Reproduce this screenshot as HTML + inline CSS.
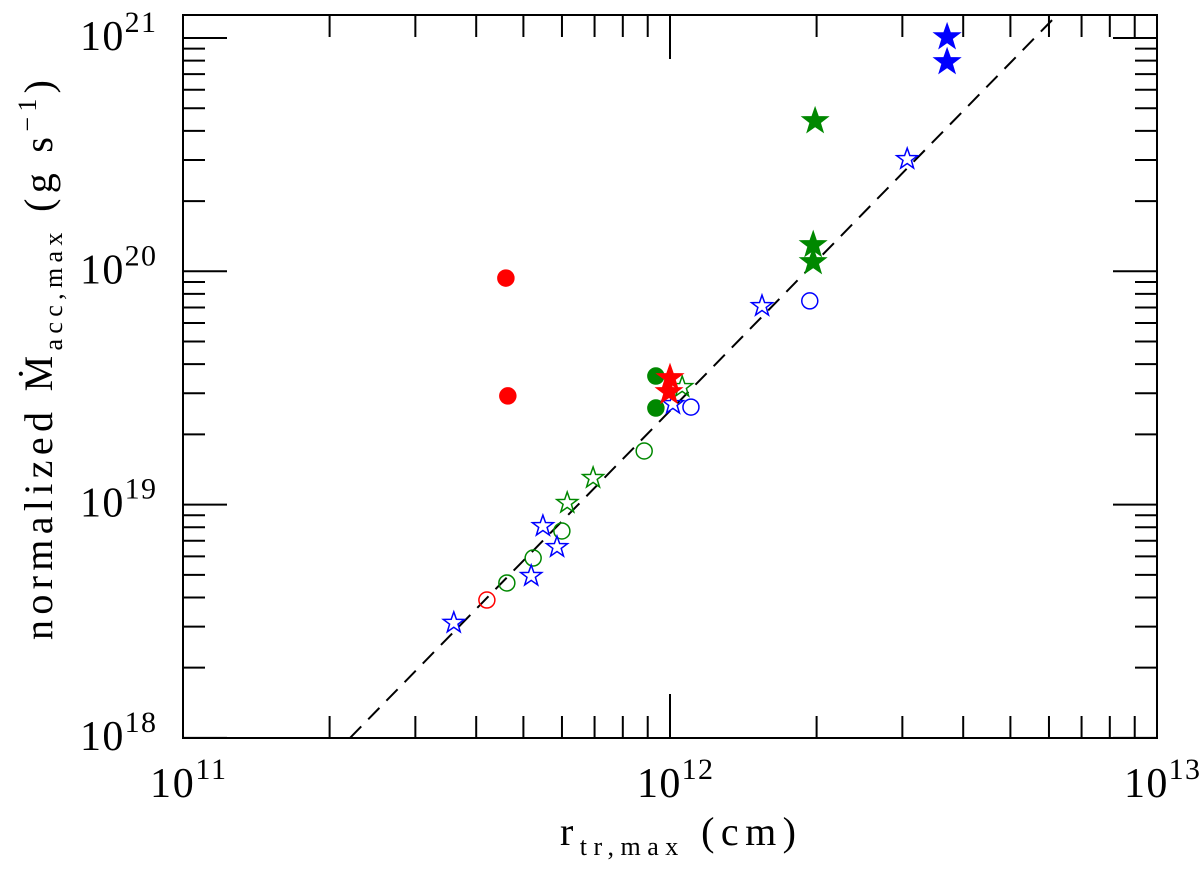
<!DOCTYPE html>
<html><head><meta charset="utf-8"><style>body{margin:0;background:#fff}svg{display:block}text{font-family:"Liberation Serif",serif;fill:#000}</style></head>
<body>
<svg id="chart" width="1200" height="875" viewBox="0 0 1200 875" xmlns="http://www.w3.org/2000/svg">
<g id="axes"></g>
<g id="marks"></g>
<text x="560" y="845" font-size="40" textLength="236" lengthAdjust="spacing">r<tspan font-size="26" dy="10">tr,max</tspan><tspan dy="-10"> (cm)</tspan></text>
<text transform="translate(52,640) rotate(-90)" font-size="40" textLength="560" lengthAdjust="spacing">normalized  Ṁ<tspan font-size="26" dy="10">acc,max</tspan><tspan dy="-10">  (g s</tspan><tspan font-size="26" dy="-16">−1</tspan><tspan dy="16">)</tspan></text>
</svg>
<script>
const xTicks=[11,12,13];
const yTicks=[18,19,20,21];
const lineX=[11.343,12.795];
const lineY=[18.0,21.099];
// series: [logx, logy]
const redFilledCircleX=[11.663,11.667], redFilledCircleY=[19.971,19.466];
const redOpenCircleX=[11.624], redOpenCircleY=[18.591];
const redFilledStarX=[12.0,11.998], redFilledStarY=[19.543,19.483];
const greenFilledCircleX=[11.971,11.971], greenFilledCircleY=[19.551,19.414];
const greenFilledStarX=[12.298,12.294,12.294], greenFilledStarY=[20.644,20.113,20.04];
const greenOpenStarX=[12.025,11.842,11.789], greenOpenStarY=[19.504,19.114,19.007];
const greenOpenCircleX=[11.947,11.778,11.719,11.665], greenOpenCircleY=[19.23,18.887,18.771,18.664];
const blueFilledStarX=[12.569,12.569], blueFilledStarY=[21.004,20.897];
const blueOpenStarX=[12.487,12.189,12.006,11.739,11.768,11.715,11.556], blueOpenStarY=[20.481,19.851,19.431,18.908,18.818,18.694,18.493];
const blueOpenCircleX=[12.287,12.043], blueOpenCircleY=[19.873,19.418];

const L=183,R=1157,T=15,B=738;
const sx=v=>L+(v-11)*487;
const sy=v=>38+(21-v)*233.3;
const NS='http://www.w3.org/2000/svg';
const axes=document.getElementById('axes'), marks=document.getElementById('marks');
function mk(tag,attrs,parent){const e=document.createElementNS(NS,tag);for(const k in attrs)e.setAttribute(k,attrs[k]);parent.appendChild(e);return e;}
const frame=mk('rect',{x:L,y:T,width:R-L,height:B-T,fill:'none',stroke:'#000','stroke-width':2},axes);


for(let d=11;d<13;d++)for(let m=1;m<10;m++){const v=d+Math.log10(m);const X=sx(v);const len=m===1?44:22;
 const t1=mk('line',{x1:X,x2:X,y1:B,y2:B-len,stroke:'#000','stroke-width':2},axes);
 
 
 const t2=mk('line',{x1:X,x2:X,y1:T,y2:T+len,stroke:'#000','stroke-width':2},axes);
 
 }
for(let d=17;d<22;d++)for(let m=1;m<10;m++){const v=d+Math.log10(m);const Y=sy(v);if(Y<T||Y>B)continue;const len=m===1?44:22;
 const t1=mk('line',{x1:L,x2:L+len,y1:Y,y2:Y,stroke:'#000','stroke-width':2},axes);
 
 
 const t2=mk('line',{x1:R,x2:R-len,y1:Y,y2:Y,stroke:'#000','stroke-width':2},axes);
 
 }
xTicks.forEach(v=>{const t=mk('text',{x:sx(v)-33,y:797,'font-size':42,textLength:76,lengthAdjust:'spacing'},axes);t.innerHTML='10<tspan font-size="30" dy="-18">'+v+'</tspan>';
 
 });
yTicks.forEach(v=>{const t=mk('text',{x:80,y:sy(v)+12,'font-size':42,textLength:76,lengthAdjust:'spacing'},axes);t.innerHTML='10<tspan font-size="30" dy="-18">'+v+'</tspan>';
 
 });
const fit=mk('line',{x1:sx(lineX[0]),y1:sy(lineY[0]),x2:sx(lineX[1]),y2:sy(lineY[1]),stroke:'#000','stroke-width':2,'stroke-dasharray':'16,10'},marks);


function starPts(cx,cy,r){let p=[];for(let i=0;i<10;i++){const a=-Math.PI/2+i*Math.PI/5;const rr=i%2?r*0.4:r;p.push((cx+rr*Math.cos(a)).toFixed(1)+','+(cy+rr*Math.sin(a)).toFixed(1));}return p.join(' ');}
function series(xs,ys,shape,color,filled,name){xs.forEach((x,i)=>{const X=sx(x),Y=sy(ys[i]);let e;
 if(shape==='circle')e=mk('circle',{cx:X,cy:Y,r:8,fill:filled?color:'none',stroke:color,'stroke-width':1.5},marks);
 else e=mk('polygon',{points:starPts(X,Y,filled?13:11),fill:filled?color:'none',stroke:color,'stroke-width':1.5},marks);
 
 });}
series(redFilledCircleX,redFilledCircleY,'circle','#f00',true,'red-filled-circle');
series(redOpenCircleX,redOpenCircleY,'circle','#f00',false,'red-open-circle');
series(greenFilledCircleX,greenFilledCircleY,'circle','#080',true,'green-filled-circle');
series(greenFilledStarX,greenFilledStarY,'star','#080',true,'green-filled-star');
series(greenOpenStarX,greenOpenStarY,'star','#080',false,'green-open-star');
series(greenOpenCircleX,greenOpenCircleY,'circle','#080',false,'green-open-circle');
series(blueFilledStarX,blueFilledStarY,'star','#00f',true,'blue-filled-star');
series(blueOpenStarX,blueOpenStarY,'star','#00f',false,'blue-open-star');
series(blueOpenCircleX,blueOpenCircleY,'circle','#00f',false,'blue-open-circle');
series(redFilledStarX,redFilledStarY,'star','#f00',true,'red-filled-star');
</script>
</body></html>
